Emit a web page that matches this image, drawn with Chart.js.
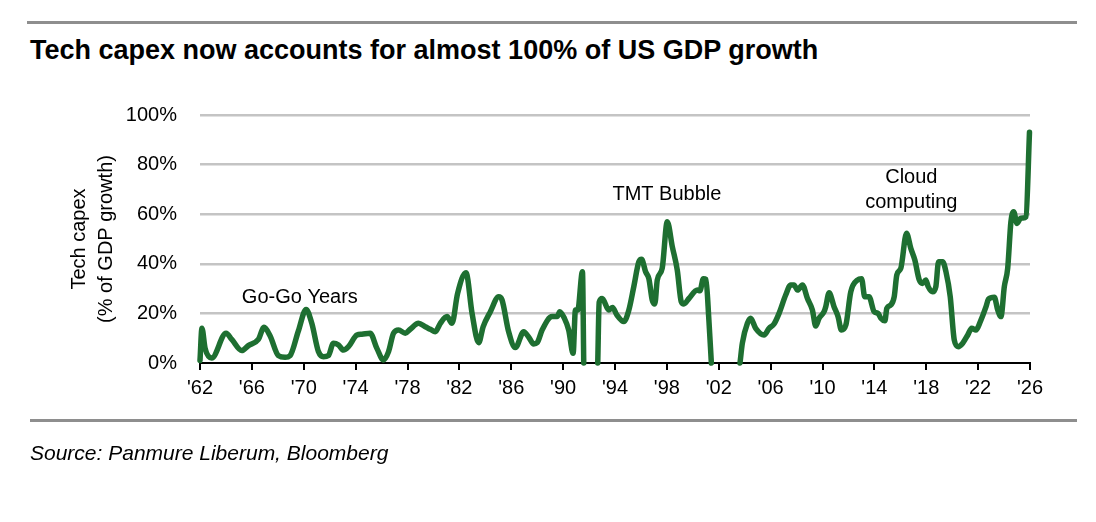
<!DOCTYPE html>
<html>
<head>
<meta charset="utf-8">
<script src="https://cdn.jsdelivr.net/npm/chart.js@4.4.1/dist/chart.umd.min.js"></script>
<style>
  body { margin: 0; background: #fff; font-family: 'Liberation Sans', Arial, sans-serif; }
  #page { position: relative; width: 1096px; height: 522px; overflow: hidden; }
  .rule { position: absolute; height: 3px; background: #8e8e8e; }
  #title { position: absolute; left: 30px; top: 34px; line-height: 32px; font-size: 27px; font-weight: bold; color: #000; white-space: nowrap; }
  #source { position: absolute; left: 30px; top: 440px; line-height: 26px; font-size: 21px; font-style: italic; color: #000; white-space: nowrap; }
  #wrap { position: absolute; left: 0; top: 0; width: 1096px; height: 522px; }
</style>
</head>
<body>
<div id="page">
  <div class="rule" style="left:27px; top:21px; width:1050px;"></div>
  <div id="title">Tech capex now accounts for almost 100% of US GDP growth</div>
  <div id="wrap"><canvas id="chart"></canvas></div>
  <div class="rule" style="left:30px; top:419px; width:1047px;"></div>
  <div id="source">Source: Panmure Liberum, Bloomberg</div>
</div>
<script>
// decimal years and tech capex share of GDP growth (%), null = gap (negative growth)
const years = [
  1962.00, 1962.15, 1962.39, 1962.90, 1964.01, 1964.45, 1965.22, 1965.73, 1966.50, 1966.94,
  1967.40, 1968.04, 1968.56, 1968.95, 1969.59, 1970.18, 1970.62, 1971.13, 1971.52, 1971.90,
  1972.29, 1972.68, 1973.06, 1973.45, 1974.10, 1974.48, 1975.12, 1975.64, 1976.15, 1976.54,
  1976.92, 1977.31, 1977.83, 1978.21, 1978.85, 1979.37, 1979.76, 1980.14, 1980.53, 1981.05,
  1981.43, 1981.86, 1982.51, 1982.98, 1983.49, 1983.83, 1984.39, 1985.03, 1985.29, 1985.80,
  1986.32, 1986.96, 1987.35, 1987.73, 1988.00, 1988.38, 1989.15, 1989.54, 1989.74, 1990.10,
  1990.43, 1990.77, 1990.95, 1991.13, 1991.49, 1991.59, 1992.10, 1992.67, 1992.78, 1993.01,
  1993.52, 1993.81, 1994.14, 1994.68, 1995.07, 1995.45, 1995.84, 1996.05, 1996.36, 1996.61,
  1996.87, 1997.07, 1997.26, 1997.64, 1998.03, 1998.42, 1998.80, 1999.11, 1999.31, 1999.70,
  2000.35, 2000.55, 2000.81, 2001.01, 2001.24, 2001.43, 2002.50, 2003.64, 2003.82, 2004.21,
  2004.46, 2004.85, 2005.49, 2005.88, 2006.26, 2006.65, 2007.16, 2007.55, 2007.80, 2008.07,
  2008.45, 2008.84, 2009.22, 2009.48, 2009.73, 2010.12, 2010.25, 2010.51, 2010.89, 2011.20,
  2011.46, 2011.80, 2012.18, 2012.70, 2013.01, 2013.26, 2013.59, 2013.98, 2014.29, 2014.50,
  2014.81, 2014.96, 2015.27, 2015.53, 2015.73, 2016.04, 2016.48, 2016.81, 2017.12, 2017.46,
  2017.72, 2017.97, 2018.15, 2018.49, 2018.74, 2018.95, 2019.26, 2019.52, 2019.85, 2020.16,
  2020.47, 2020.81, 2021.20, 2021.50, 2021.83, 2022.17, 2022.61, 2022.79, 2023.25, 2023.51,
  2023.76, 2024.02, 2024.28, 2024.53, 2024.74, 2025.00, 2025.26, 2025.46, 2025.69, 2025.96
];
const capex = [
  1, 14, 6, 2, 12, 9.5, 5, 7, 9.5, 14.4,
  11, 3, 2.3, 3, 13, 21.6, 16, 4.6, 2.5, 3,
  8, 7.3, 5.2, 6.6, 11.3, 11.6, 12, 5.9, 1.2, 4.6,
  12, 13.3, 12, 13.6, 16, 14.6, 13.6, 12.6, 16, 18.7,
  16, 28, 36.4, 20, 8.2, 14.6, 20.7, 26.7, 25.4, 12.6,
  6.2, 12.6, 10.4, 7.7, 8.2, 13.3, 18.7, 18.7, 20.7, 18,
  13.3, 3.9, 21.4, 21.4, 36.8, 0, null, 0, 24.5, 26,
  21.4, 22.4, 19.4, 16.7, 21.4, 30.8, 40.8, 41.8, 36.8, 34,
  25.4, 23.8, 33.5, 38.2, 57, 46.9, 37.5, 24.7, 23.8, 26,
  29.4, 29.1, 34, 33.7, 17.3, 0, null, 0, 8, 16,
  18, 14, 11.3, 14, 15.7, 20, 27.4, 31.5, 31.5, 29.4,
  31.5, 26, 21.4, 14.9, 18, 20.7, 22.7, 28.3, 22.7, 18.7,
  13.3, 15.3, 28.7, 33.5, 34, 26.7, 26.7, 20.7, 20, 18,
  17, 22, 23.4, 26.7, 35.5, 38.2, 52.3, 46.2, 41.5, 33.5,
  32.1, 33.5, 30.8, 28.7, 30.8, 40.8, 40.8, 36.8, 26.7, 9.3,
  6.6, 8, 11.3, 14, 13.3, 16.7, 22.7, 25.7, 26.5, 21.4,
  18.7, 30.8, 38.2, 57, 61, 56.3, 58.3, 58.5, 59, 93
];
const xTicks = [1962, 1966, 1970, 1974, 1978, 1982, 1986, 1990, 1994, 1998, 2002, 2006, 2010, 2014, 2018, 2022, 2026];
const yTicks = [0, 20, 40, 60, 80, 100];
const notes = [
  { text: ['Go-Go Years'], x: 1969.7, y: 26.5 },
  { text: ['TMT Bubble'], x: 1998.0, y: 68 },
  { text: ['Cloud', 'computing'], x: 2016.85, y: 75 }
];

const points = years.map((yr, i) => ({ x: yr, y: capex[i] }));

Chart.defaults.font.family = "'Liberation Sans', Arial, sans-serif";
Chart.defaults.font.size = 20;
Chart.defaults.color = '#000';

const notesPlugin = {
  id: 'notes',
  afterDatasetsDraw(chart) {
    const { ctx, scales } = chart;
    ctx.save();
    ctx.font = "20px 'Liberation Sans', Arial, sans-serif";
    ctx.fillStyle = '#000';
    ctx.textAlign = 'center';
    ctx.textBaseline = 'middle';
    notes.forEach(n => {
      const px = scales.x.getPixelForValue(n.x);
      const py = scales.y.getPixelForValue(n.y);
      n.text.forEach((line, i) => ctx.fillText(line, px, py + i * 25));
    });
    ctx.restore();
  }
};

new Chart(document.getElementById('chart'), {
  type: 'line',
  data: {
    datasets: [{
      data: points,
      borderColor: '#1e6f31',
      borderWidth: 5.5,
      pointRadius: 0,
      cubicInterpolationMode: 'monotone',
      borderCapStyle: 'round',
      borderJoinStyle: 'round',
      spanGaps: false,
      clip: false
    }]
  },
  options: {
    responsive: true,
    maintainAspectRatio: false,
    animation: false,
    layout: { padding: { left: 0, right: 66, top: 115, bottom: 119 } },
    plugins: { legend: { display: false }, tooltip: { enabled: false } },
    scales: {
      x: {
        type: 'linear',
        min: 1962,
        max: 2026,
        afterFit: s => { s.height = 40; },
        afterBuildTicks: s => { s.ticks = xTicks.map(v => ({ value: v })); },
        ticks: {
          padding: 6,
          maxRotation: 0,
          autoSkip: false,
          callback: v => "'" + String(v).slice(2)
        },
        grid: { drawOnChartArea: false, drawTicks: true, tickLength: 7, color: '#000', lineWidth: 2 },
        border: { display: true, color: '#000', width: 2 }
      },
      y: {
        min: 0,
        max: 100,
        afterFit: s => { s.width = 200; },
        afterBuildTicks: s => { s.ticks = yTicks.map(v => ({ value: v })); },
        ticks: { padding: 23, callback: v => v + '%' },
        grid: {
          drawTicks: false,
          lineWidth: 2.5,
          color: c => (c.tick && c.tick.value === 0) ? 'rgba(0,0,0,0)' : '#c4c4c4'
        },
        border: { display: false },
        title: {
          display: true,
          text: ['Tech capex', '(% of GDP growth)'],
          font: { size: 20, lineHeight: 1.35 },
          padding: { top: 66, bottom: 0 }
        }
      }
    }
  },
  plugins: [notesPlugin]
});
</script>
</body>
</html>
